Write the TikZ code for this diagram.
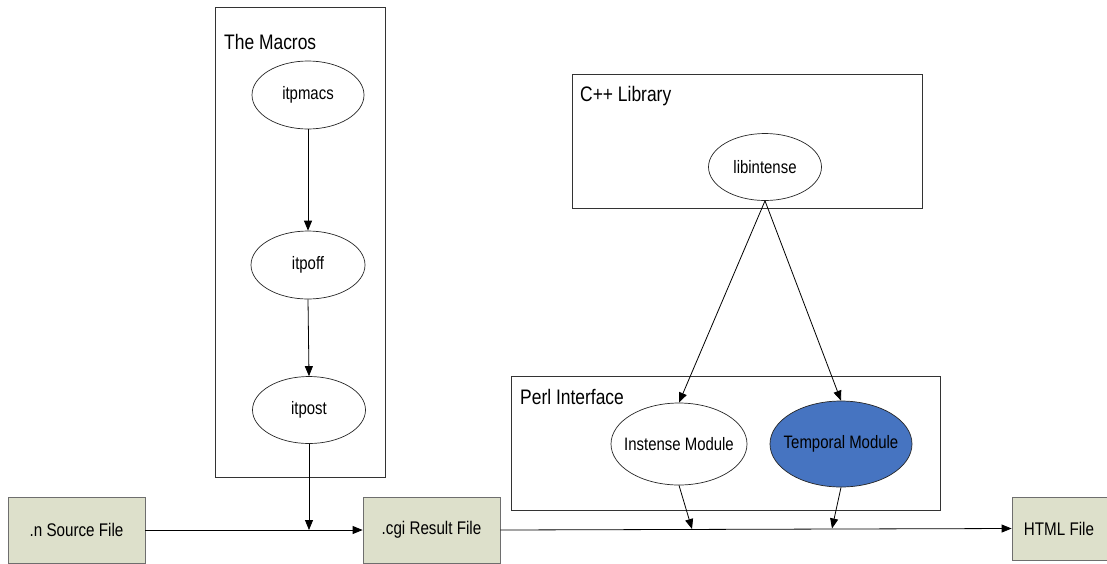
\documentclass[tikz,border=0pt]{standalone}
\usepackage{fontspec}
\setmainfont{Liberation Sans}[FakeStretch=0.83]
\usetikzlibrary{arrows.meta,shapes.geometric}
\definecolor{filefill}{RGB}{221,224,203}
\definecolor{fileedge}{RGB}{110,110,110}
\definecolor{tempfill}{RGB}{70,116,193}
\newcommand{\ztext}[1]{\makebox[0pt]{#1}}
\tikzset{
  cluster/.style={draw=black!80, line width=0.8pt, fill=none},
  clabel/.style={anchor=west, inner sep=0pt, font=\fontsize{21}{23}\selectfont},
  oval/.style={ellipse, draw=black!85, line width=0.7pt, fill=white, inner sep=0pt, font=\fontsize{18}{20}\selectfont},
  filebox/.style={rectangle, draw=fileedge, line width=0.8pt, fill=filefill, inner sep=0pt, font=\fontsize{18.3}{20}\selectfont},
  conn/.style={draw=black, line width=0.8pt, -{Triangle[length=10pt,width=8pt]}},
  plain/.style={draw=black, line width=0.8pt}
}
\begin{document}
\begin{tikzpicture}[x=1pt,y=-1pt]
\useasboundingbox (0,0) rectangle (1107,563);
\clip (0,0) rectangle (1107,563);
% clusters
\draw[cluster] (215,7) rectangle (385,477);
\node[clabel] (lmac) at (224,42) {The Macros};
\draw[cluster] (572,74) rectangle (922,208);
\node[clabel] (lcpp) at (580,96) {C++ Library};
\draw[cluster] (511,376) rectangle (940,510);
\node[clabel] (lperl) at (520,397) {Perl Interface};
% ellipses
\node[oval, minimum width=112pt, minimum height=68pt] (mac) at (308,95) {\ztext{itpmacs}};
\node[oval, minimum width=114pt, minimum height=68pt] (off) at (308,265) {\ztext{itpoff}};
\node[oval, minimum width=113pt, minimum height=67pt] (post) at (309,410) {\ztext{itpost}};
\node[oval, minimum width=113pt, minimum height=67pt] (lib) at (765,167) {\ztext{libintense}};
\node[oval, minimum width=136pt, minimum height=82pt] (inst) at (679,444) {\ztext{Instense Module}};
\node[oval, fill=tempfill, minimum width=142pt, minimum height=86pt] (temp) at (841,444) {\ztext{Temporal Module}};
% file boxes
\node[filebox, minimum width=137pt, minimum height=66pt] (src) at (76.5,530) {\ztext{.n Source File}};
\node[filebox, minimum width=137pt, minimum height=66pt] (cgi) at (431.5,530) {\ztext{.cgi Result File}};
\node[filebox, minimum width=100pt, minimum height=63pt] (html) at (1062,528.5) {\ztext{\hspace*{-6pt}HTML File}};
% junction points
\coordinate (j1) at (309,530);
\coordinate (j2) at (692,529);
\coordinate (j3) at (832,528.5);
% connectors
\draw[conn] (mac.south) -- (off.north);
\draw[conn] (off.south) -- (post.north);
\draw[conn] (post.south) -- (j1);
\draw[conn] (src.east) -- (cgi.west);
\draw[conn] (cgi.east) -- (html.west);
\draw[conn] (lib.south) -- (inst.north);
\draw[conn] (lib.south) -- (temp.north);
\draw[conn] (inst.south) -- (j2);
\draw[conn] (temp.south) -- (j3);
\end{tikzpicture}
\end{document}
